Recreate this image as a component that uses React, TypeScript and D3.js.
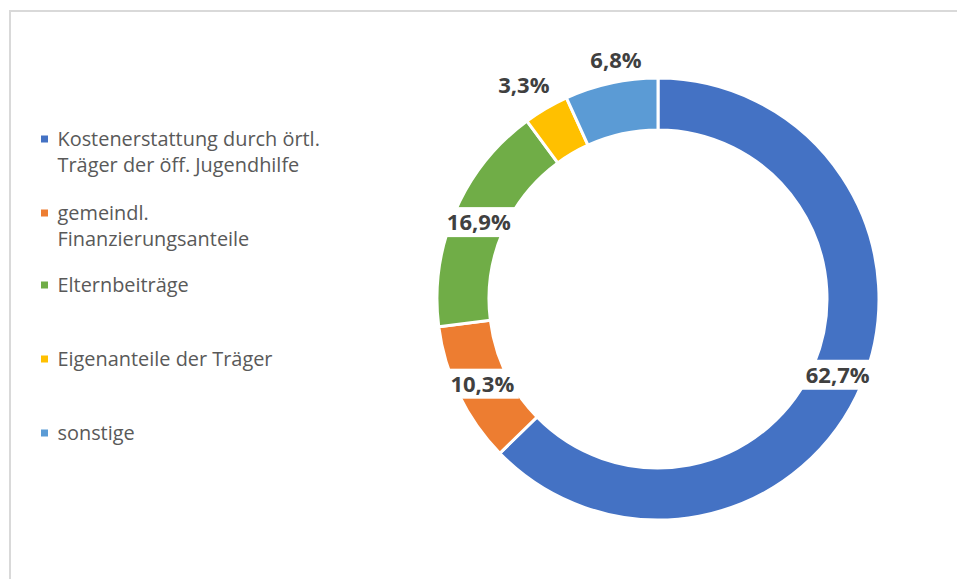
import React from "react";
import * as d3 from "d3";

const categories = [
  "Kostenerstattung durch örtl.|Träger der öff. Jugendhilfe",
  "gemeindl.|Finanzierungsanteile",
  "Elternbeiträge",
  "Eigenanteile der Träger",
  "sonstige",
];
const values = [62.7, 10.3, 16.9, 3.3, 6.8];
const labels = ["62,7%", "10,3%", "16,9%", "3,3%", "6,8%"];
const colors = ["#4472C4", "#ED7D31", "#70AD47", "#FFC000", "#5B9BD5"];
const outside = [false, false, false, true, true];

export default function App() {
  const W = 957, H = 579;
  const cx = 658, cy = 299, R = 221, r = 169;
  const legendY = [139, 213, 285, 359, 433];
  // outside label placement tweaks: [radius, angle shift in degrees]
  const nudge: [number, number][] = [[0, 0], [0, 0], [0, 0], [252.6, -1.65], [242.7, 2.27]];
  const pie = d3.pie<number>().sort(null).value((d) => d);
  const arcs = pie(values);
  const arc = d3.arc<d3.PieArcDatum<number>>().innerRadius(r).outerRadius(R);
  const font = "'Open Sans', Calibri, sans-serif";
  return (
    <svg width={W} height={H} style={{ position: "absolute", left: 0, top: 0 }}>
      <rect x={0} y={0} width={W} height={H} fill="#fff" />
      <rect x={10} y={11} width={W + 20} height={H + 20} fill="#fff" stroke="#d9d9d9" strokeWidth={2} />
      <g transform={`translate(${cx},${cy})`}>
        {arcs.map((a, i) => (
          <path key={i} d={arc(a) || ""} fill={colors[i]} stroke="#fff" strokeWidth={3} />
        ))}
        {arcs.map((a, i) => {
          let mid = (a.startAngle + a.endAngle) / 2;
          let rr = (R + r) / 2;
          if (outside[i]) {
            mid += (nudge[i][1] * Math.PI) / 180;
            rr = nudge[i][0];
          }
          const x = rr * Math.sin(mid);
          const y = -rr * Math.cos(mid);
          const w = labels[i].length * 13 + 8;
          return (
            <g key={"l" + i} transform={`translate(${x},${y})`}>
              {!outside[i] && <rect x={-w / 2} y={-15} width={w} height={30} fill="#fff" />}
              <text textAnchor="middle" dy="0.36em" fontFamily={font} fontWeight="bold" fontSize={22} fill="#404040">
                {labels[i]}
              </text>
            </g>
          );
        })}
      </g>
      <g>
        {categories.map((c, i) => (
          <g key={"lg" + i} transform={`translate(41,${legendY[i]})`}>
            <rect x={0} y={-3.5} width={7} height={7} fill={colors[i]} />
            {c.split("|").map((line, j) => (
              <text key={j} x={16.5} y={j * 26.5} dy="0.35em" fontFamily={font} fontSize={19.9} fill="#595959">
                {line}
              </text>
            ))}
          </g>
        ))}
      </g>
    </svg>
  );
}
